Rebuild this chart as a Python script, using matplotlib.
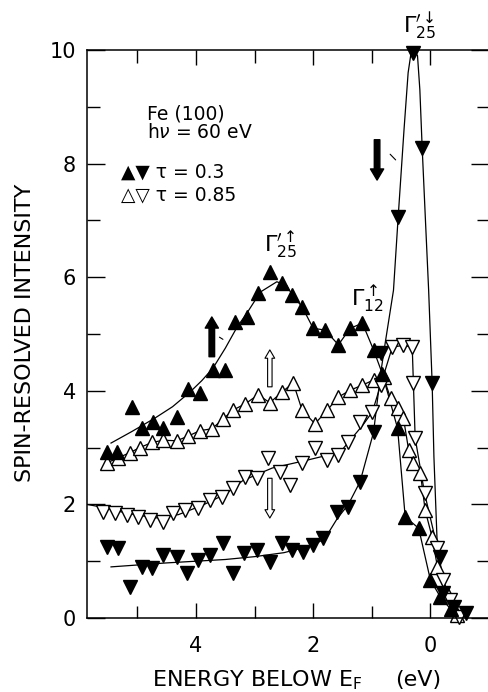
import matplotlib
matplotlib.use("Agg")
import matplotlib.pyplot as plt

# tau = 0.3, spin up (filled up triangles)
up03_e = [5.52, 5.35, 5.09, 4.92, 4.73, 4.56, 4.33, 4.13, 3.93, 3.71, 3.5, 3.33, 3.13, 2.94, 2.74,
          2.53, 2.36, 2.19, 2.0, 1.8, 1.57, 1.37, 1.16, 0.97, 0.82, 0.56, 0.43, 0.2, 0.0, -0.17, -0.35]
up03_i = [2.92, 2.92, 3.72, 3.35, 3.45, 3.35, 3.54, 4.03, 3.96, 4.37, 4.37, 5.21, 5.3, 5.72, 6.09,
          5.9, 5.69, 5.48, 5.1, 5.07, 4.81, 5.1, 5.19, 4.72, 4.3, 3.34, 1.78, 1.58, 0.67, 0.37, 0.15]
up03_fit_e = [5.45, 5.1, 4.7, 4.4, 4.1, 3.9, 3.71, 3.5, 3.3, 3.13, 2.9, 2.62, 2.45, 2.36, 2.19, 2.0,
              1.8, 1.57, 1.37, 1.16, 0.97, 0.82, 0.56, 0.43, 0.2, 0.0, -0.17, -0.35]
up03_fit_i = [3.08, 3.28, 3.52, 3.72, 3.98, 4.18, 4.4, 4.75, 5.12, 5.37, 5.74, 5.92, 5.85, 5.69, 5.48, 5.1,
              5.07, 4.81, 5.1, 5.19, 4.72, 4.3, 3.34, 1.78, 1.58, 0.67, 0.37, 0.15]

# tau = 0.3, spin down (filled down triangles)
dn03_e = [5.52, 5.33, 5.13, 4.92, 4.75, 4.56, 4.33, 4.15, 3.97, 3.76, 3.54, 3.37, 3.18, 2.96, 2.74,
          2.53, 2.36, 2.17, 2.0, 1.83, 1.59, 1.40, 1.20, 0.97, 0.85, 0.55, 0.30, 0.14, -0.03, -0.17,
          -0.22, -0.4, -0.6]
dn03_i = [1.25, 1.23, 0.55, 0.90, 0.88, 1.11, 1.07, 0.79, 1.02, 1.11, 1.32, 0.79, 1.14, 1.2, 0.99,
          1.32, 1.2, 1.16, 1.29, 1.41, 1.87, 1.96, 2.39, 3.27, 4.66, 7.06, 9.95, 8.27, 4.13, 1.07,
          0.44, 0.2, 0.09]
dn03_fit_e = [5.45, 4.5, 3.5, 3.0, 2.5, 2.0, 1.8, 1.59, 1.4, 1.2, 0.97, 0.85, 0.77, 0.63, 0.55, 0.45,
              0.38, 0.33, 0.28, 0.22, 0.18, 0.14, 0.08, 0.03, -0.03, -0.06, -0.12, -0.2, -0.34, -0.5, -0.6]
dn03_fit_i = [0.9, 0.97, 1.03, 1.08, 1.15, 1.28, 1.4, 1.75, 2.0, 2.4, 3.27, 4.3, 4.85, 5.77, 7.06, 8.6,
              9.6, 9.95, 10.0, 9.9, 9.3, 8.27, 6.9, 5.77, 4.13, 2.84, 1.2, 0.6, 0.3, 0.12, 0.08]

# tau = 0.85, spin up (open up triangles)
up085_e = [5.52, 5.33, 5.13, 4.96, 4.75, 4.56, 4.33, 4.14, 3.93, 3.73, 3.54, 3.37, 3.16, 2.94, 2.74,
           2.53, 2.34, 2.19, 1.97, 1.76, 1.57, 1.37, 1.16, 0.97, 0.8, 0.68, 0.55, 0.46, 0.37, 0.29,
           0.17, 0.09, -0.03, -0.12, -0.29, -0.46]
up085_i = [2.73, 2.82, 2.91, 3.0, 3.09, 3.13, 3.12, 3.2, 3.3, 3.33, 3.5, 3.66, 3.77, 3.93, 3.79,
           3.98, 4.14, 3.66, 3.42, 3.66, 3.89, 4.01, 4.1, 4.19, 4.24, 3.87, 3.69, 3.52, 2.95, 2.73,
           2.55, 1.9, 1.42, 0.9, 0.44, 0.05]

# tau = 0.85, spin down (open down triangles)
dn085_e = [5.59, 5.38, 5.18, 4.99, 4.79, 4.56, 4.39, 4.19, 3.97, 3.76, 3.56, 3.37, 3.16, 2.96, 2.77,
           2.56, 2.39, 2.19, 1.97, 1.76, 1.57, 1.40, 1.20, 0.99, 0.85, 0.65, 0.46, 0.31, 0.29, 0.26,
           0.1, -0.12, -0.22, -0.34, -0.48]
dn085_i = [1.87, 1.85, 1.81, 1.78, 1.73, 1.69, 1.85, 1.90, 1.94, 2.08, 2.13, 2.29, 2.48, 2.46, 2.82,
           2.57, 2.34, 2.73, 3.0, 2.78, 2.87, 3.1, 3.45, 3.63, 4.1, 4.77, 4.8, 4.77, 4.13, 3.17,
           2.2, 1.23, 0.67, 0.32, 0.02]
dn085_fit_e = [5.86, 5.6, 5.2, 4.7, 4.3, 3.9, 3.5, 3.2, 2.7, 2.1, 1.54, 1.15, 0.99, 0.85, 0.65, 0.46,
               0.31, 0.29, 0.26, 0.1, -0.12, -0.22, -0.34, -0.48]
dn085_fit_i = [2.0, 1.95, 1.85, 1.76, 1.82, 1.98, 2.18, 2.42, 2.64, 2.78, 2.92, 3.4, 3.63, 4.1, 4.77, 4.8,
               4.77, 4.13, 3.17, 2.2, 1.23, 0.67, 0.32, 0.02]

plt.rcParams['font.family'] = ['DejaVu Sans']
plt.rcParams['mathtext.fontset'] = 'dejavusans'

fig = plt.figure(figsize=(4.89, 6.92), dpi=100)
ax = fig.add_axes([87 / 489, 74 / 692, 402 / 489, 568 / 692])

lw = 0.9
ms = 9.5
ax.plot(up03_fit_e, up03_fit_i, color='black', lw=lw)
ax.plot(dn03_fit_e, dn03_fit_i, color='black', lw=lw)
ax.plot(up085_e, up085_i, color='black', lw=lw)
ax.plot(dn085_fit_e, dn085_fit_i, color='black', lw=lw)

ax.plot(up085_e, up085_i, ls='none', marker='^', ms=ms, mfc='white', mec='black', mew=1.0, clip_on=False)
ax.plot(dn085_e, dn085_i, ls='none', marker='v', ms=ms, mfc='white', mec='black', mew=1.0, clip_on=False)
ax.plot(up03_e, up03_i, ls='none', marker='^', ms=ms, color='black', clip_on=False)
ax.plot(dn03_e, dn03_i, ls='none', marker='v', ms=ms, color='black', clip_on=False)

ax.set_xlim(5.86, -1.0)
ax.set_ylim(0, 10)
ax.set_xticks([4, 2, 0])
ax.set_xticks([5, 3, 1], minor=True)
ax.set_yticks([0, 2, 4, 6, 8, 10])
ax.set_yticks([1, 3, 5, 7, 9], minor=True)
ax.tick_params(axis='both', which='both', direction='in', width=1.0, labelsize=15)
ax.tick_params(axis='y', which='major', length=13, pad=8, left=True, right=True)
ax.tick_params(axis='y', which='minor', length=9, left=True, right=True)
ax.tick_params(axis='x', which='major', length=11, pad=13, top=True, bottom=True)
ax.tick_params(axis='x', which='minor', length=9, top=True, bottom=True)
ax.spines['right'].set_visible(False)
for s in ['left', 'top', 'bottom']:
    ax.spines[s].set_linewidth(1.1)

fig.text(25 / 489, 1 - 333 / 692, 'SPIN-RESOLVED INTENSITY', rotation=90, ha='center', va='center', fontsize=16)
fig.text(152 / 489, 1 - 680 / 692, r'ENERGY BELOW E$_\mathregular{F}$', ha='left', va='center', fontsize=16)
fig.text(395 / 489, 1 - 680 / 692, '(eV)', ha='left', va='center', fontsize=16)

ax.text(4.84, 8.87, 'Fe (100)', fontsize=13.5, va='center')
ax.text(4.84, 8.55, r'h$\nu$ = 60 eV', fontsize=13.5, va='center')
ax.text(5.28, 7.85, '\u25B2\u25BC \u03C4 = 0.3', fontsize=13.5, va='center')
ax.text(5.28, 7.45, '\u25B3\u25BD \u03C4 = 0.85', fontsize=13.5, va='center')

ax.text(0.18, 10.15, r"$\Gamma_{25}^{\prime\downarrow}$", fontsize=16, ha='center', va='bottom', clip_on=False)
ax.text(2.56, 6.3, r"$\Gamma_{25}^{\prime\uparrow}$", fontsize=16, ha='center', va='bottom')
ax.text(1.08, 5.35, r"$\Gamma_{12}^{\uparrow}$", fontsize=16, ha='center', va='bottom')

solid = dict(width=4.0, headwidth=9.5, headlength=8, facecolor='black', edgecolor='black', shrink=0)
hollow = dict(width=3.2, headwidth=7, headlength=6, facecolor='white', edgecolor='black', lw=0.8, shrink=0)
ax.annotate('', xy=(3.73, 5.3), xytext=(3.73, 4.6), arrowprops=solid)
ax.annotate('', xy=(0.91, 7.71), xytext=(0.91, 8.42), arrowprops=solid)
ax.annotate('', xy=(2.74, 4.72), xytext=(2.74, 4.07), arrowprops=hollow)
ax.annotate('', xy=(2.74, 1.76), xytext=(2.74, 2.46), arrowprops=hollow)
ax.annotate('', xy=(3.5, 4.88), xytext=(3.64, 4.97), arrowprops=dict(arrowstyle='-', lw=0.8))
ax.annotate('', xy=(0.56, 8.03), xytext=(0.72, 8.2), arrowprops=dict(arrowstyle='-', lw=0.8))

plt.savefig('out.png', dpi=100)
